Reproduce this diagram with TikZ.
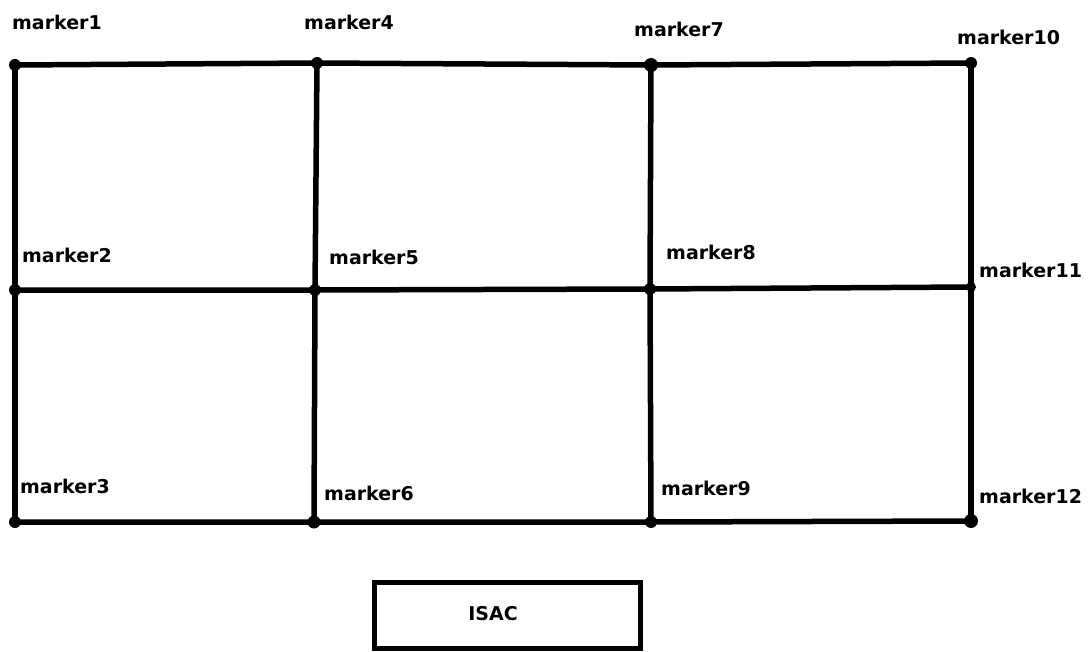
\documentclass[tikz,border=0pt]{standalone}
\usepackage{fontspec}
\setmainfont{DejaVu Sans}
\begin{document}
\begin{tikzpicture}[x=1pt,y=-1pt,
  wire/.style={line width=5.5pt},
  dot/.style={circle,fill=black,inner sep=0pt,minimum size=#1},
  dot/.default=12pt,
  lbl/.style={font=\fontsize{19}{19}\selectfont\bfseries,inner sep=0pt,anchor=base west},
  box/.style={draw,line width=5.5pt,minimum width=266pt,minimum height=66pt,inner sep=0pt}]
\useasboundingbox (0,0) rectangle (1089,652);

% grid junctions
\node[dot] (m1) at (15,65) {};
\node[dot] (m2) at (15,290) {};
\node[dot] (m3) at (15,522) {};
\node[dot] (m4) at (317,63) {};
\node[dot] (m5) at (315,290) {};
\node[dot=13pt] (m6) at (314,522) {};
\node[dot=14pt] (m7) at (651,65) {};
\node[dot] (m8) at (650,289) {};
\node[dot] (m9) at (651,522) {};
\node[dot] (m10) at (971,63) {};
\node[dot=10pt] (m11) at (971,287) {};
\node[dot=14pt] (m12) at (971,521) {};

% rows
\draw[wire] (m1.center) -- (m4.center) -- (m7.center) -- (m10.center);
\draw[wire] (m2.center) -- (m5.center) -- (m8.center) -- (m11.center);
\draw[wire] (m3.center) -- (m6.center) -- (m9.center) -- (m12.center);
% columns
\draw[wire] (m1.center) -- (m2.center) -- (m3.center);
\draw[wire] (m4.center) -- (m5.center) -- (m6.center);
\draw[wire] (m7.center) -- (m8.center) -- (m9.center);
\draw[wire] (m10.center) -- (m11.center) -- (m12.center);

% marker labels
\node[lbl] (t1) at (12,30) {marker1};
\node[lbl] (t2) at (22,263) {marker2};
\node[lbl] (t3) at (20,493) {marker3};
\node[lbl] (t4) at (304,30) {marker4};
\node[lbl] (t5) at (329,265) {marker5};
\node[lbl] (t6) at (324,500) {marker6};
\node[lbl] (t7) at (634,37) {marker7};
\node[lbl] (t8) at (666,260) {marker8};
\node[lbl] (t9) at (661,495) {marker9};
\node[lbl] (t10) at (957,45) {marker10};
\node[lbl] (t11) at (979,278) {marker11};
\node[lbl] (t12) at (979,503) {marker12};

% ISAC block
\node[box] (isac) at (507.5,615.5) {};
\node[lbl,anchor=base] (isact) at (493,620) {ISAC};
\end{tikzpicture}
\end{document}
